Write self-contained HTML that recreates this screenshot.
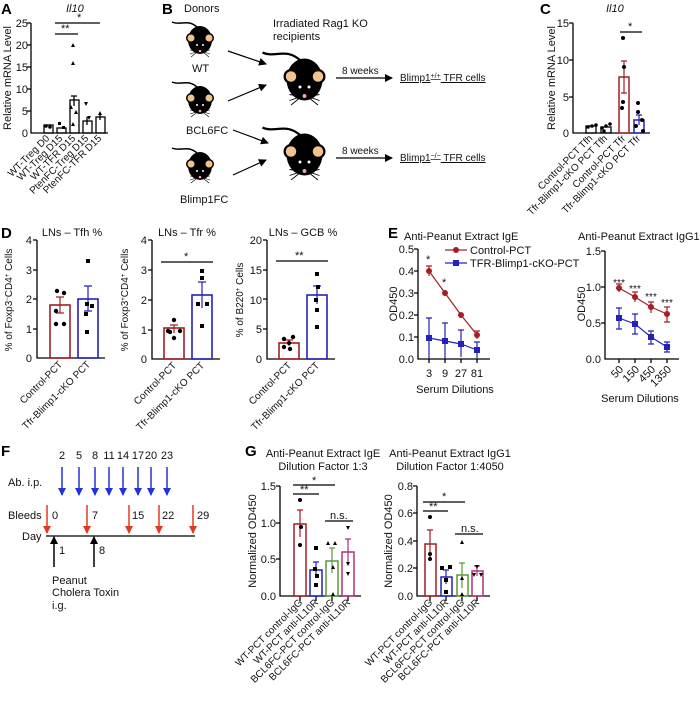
<!DOCTYPE html>
<html><head><meta charset="utf-8"><style>
html,body{margin:0;padding:0;background:#fff;}
svg{display:block;font-family:"Liberation Sans",Arial,sans-serif;}
.t{font-size:11px;fill:#111}
.s{font-size:10px;fill:#111}
.L{font-size:15px;font-weight:bold;fill:#000}
.ax{stroke:#000;stroke-width:1.3;fill:none}
</style></head><body>
<svg width="700" height="722" viewBox="0 0 700 722" xmlns="http://www.w3.org/2000/svg">
<defs>
<marker id="ab" markerUnits="userSpaceOnUse" markerWidth="8" markerHeight="8" refX="7" refY="4" orient="auto"><path d="M0,0 L8,4 L0,8z" fill="#2233dd"/></marker>
<marker id="ar" markerUnits="userSpaceOnUse" markerWidth="8" markerHeight="8" refX="7" refY="4" orient="auto"><path d="M0,0 L8,4 L0,8z" fill="#e03a1e"/></marker>
<marker id="ak" markerUnits="userSpaceOnUse" markerWidth="8" markerHeight="8" refX="7" refY="4" orient="auto"><path d="M0,0 L8,4 L0,8z" fill="#000"/></marker>
<g id="mouse">
<path d="M-2,-12 C-12,-22 -20,-14 -28,-18" stroke="#000" stroke-width="1.5" fill="none"/>
<ellipse cx="0" cy="0" rx="12" ry="14" fill="#000"/>
<circle cx="-9" cy="-2" r="5" fill="#000"/><circle cx="9" cy="-2" r="5" fill="#000"/>
<circle cx="-9" cy="-2" r="3.5" fill="#f3c38e"/><circle cx="9" cy="-2" r="3.5" fill="#f3c38e"/>
<circle cx="-3" cy="5" r="1" fill="#fff"/><circle cx="3" cy="5" r="1" fill="#fff"/>
<circle cx="0" cy="11" r="1.3" fill="#f0a0b0"/>
<path d="M-4,11 l-6,-1 M-4,12 l-6,2 M-4,13 l-5,4 M4,11 l6,-1 M4,12 l6,2 M4,13 l5,4" stroke="#000" stroke-width=".6"/>
</g>
</defs>

<!-- Panel A -->
<text class="L" x="1" y="14">A</text>
<text class="t" x="66" y="12" font-style="italic" font-size="12">Il10</text>
<g class="t" text-anchor="end">
<text x="28" y="27">25</text><text x="28" y="49">20</text><text x="28" y="71">15</text><text x="28" y="93">10</text><text x="28" y="115">5</text><text x="28" y="137">0</text>
</g>
<path class="ax" d="M31,23 V133 H108 M27,23 H31 M27,45 H31 M27,67 H31 M27,89 H31 M27,111 H31"/>
<text class="t" transform="translate(11,78) rotate(-90)" text-anchor="middle">Relative mRNA Level</text>
<g stroke="#000" stroke-width="1.3" fill="none">
<rect x="44" y="125" width="9" height="8"/><rect x="57" y="128" width="9" height="5"/>
<rect x="70" y="100" width="9" height="33"/><rect x="83" y="121" width="9" height="12"/><rect x="96" y="117" width="9" height="16"/>
<path d="M74,96 V106 M71,96 H77 M87,117 V125 M100,114 V120"/>
</g>
<g fill="#000"><circle cx="46" cy="126" r="1.8"/><circle cx="50" cy="127" r="1.8"/><rect x="58" y="122" width="3" height="3"/><rect x="62" y="126" width="3" height="3"/>
<path d="M73,43 l2,4 h-4z M73,61 l2,4 h-4z M71,105 l2,4 h-4z M76,110 l2,4 h-4z M73,122 l2,4 h-4z M86,106 l2,-4 h-4z M89,120 l2,-4 h-4z M100,111 l2,4 h-4z"/></g>
<path d="M55,34 H78 M55,23 H100" stroke="#000" stroke-width="1.3"/>
<text class="t" x="61" y="32">**</text><text class="t" x="77" y="21">*</text>
<g class="s" text-anchor="end">
<text transform="translate(50,139) rotate(-45)">WT-Treg D0</text>
<text transform="translate(63,139) rotate(-45)">WT-Treg D15</text>
<text transform="translate(76,139) rotate(-45)">WT-TFR D15</text>
<text transform="translate(89,139) rotate(-45)">PtenFC-Treg D15</text>
<text transform="translate(102,139) rotate(-45)">PtenFC-TFR D15</text>
</g>

<!-- Panel B -->
<text class="L" x="162" y="14">B</text>
<text class="t" x="184" y="12">Donors</text>
<use href="#mouse" x="200" y="40"/><text class="t" x="192" y="72">WT</text>
<use href="#mouse" x="200" y="100"/><text class="t" x="186" y="134">BCL6FC</text>
<use href="#mouse" x="200" y="166"/><text class="t" x="180" y="203">Blimp1FC</text>
<text class="t" x="273" y="27">Irradiated Rag1 KO</text>
<text class="t" x="273" y="40">recipients</text>
<g transform="scale(1.5)"><use href="#mouse" x="203" y="53"/><use href="#mouse" x="203" y="103"/></g>
<g stroke="#000" stroke-width="1.2" marker-end="url(#ak)">
<path d="M228,51 L266,64"/><path d="M228,101 L266,85"/><path d="M233,130 L268,143"/><path d="M233,175 L266,160"/>
<path d="M336,78 H392"/><path d="M336,158 H392"/>
</g>
<text class="s" x="342" y="74">8 weeks</text><text class="s" x="342" y="154">8 weeks</text>
<text class="s" x="400" y="81" text-decoration="underline">Blimp1<tspan baseline-shift="super" font-size="7">+/+</tspan> TFR cells</text>
<text class="s" x="400" y="161" text-decoration="underline">Blimp1<tspan baseline-shift="super" font-size="7">−/−</tspan> TFR cells</text>

<!-- Panel C -->
<text class="L" x="540" y="14">C</text>
<text class="t" x="606" y="12" font-style="italic" font-size="12">Il10</text>
<g class="t" text-anchor="end"><text x="569" y="27">15</text><text x="569" y="64">10</text><text x="569" y="101">5</text><text x="569" y="137">0</text></g>
<path class="ax" d="M573,23 V133 H650 M569,23 H573 M569,60 H573 M569,97 H573"/>
<text class="t" transform="translate(555,78) rotate(-90)" text-anchor="middle">Relative mRNA Level</text>
<rect x="586" y="126" width="10" height="7" fill="none" stroke="#000" stroke-width="1.3"/>
<rect x="601" y="127" width="10" height="6" fill="none" stroke="#000" stroke-width="1.3"/>
<rect x="619" y="77" width="10" height="56" fill="none" stroke="#a31f24" stroke-width="1.5"/>
<rect x="634" y="120" width="10" height="13" fill="none" stroke="#2222bb" stroke-width="1.5"/>
<path d="M624,61 V93 M621,61 H627 M621,93 H627" stroke="#a31f24" stroke-width="1.2"/>
<path d="M639,115 V125 M636,115 H642" stroke="#2222bb" stroke-width="1.2"/>
<g fill="#000"><circle cx="588" cy="127" r="1.8"/><circle cx="592" cy="126" r="1.8"/><circle cx="596" cy="125" r="1.8"/><circle cx="602" cy="128" r="1.8"/><circle cx="606" cy="126" r="1.8"/><circle cx="610" cy="124" r="1.8"/><circle cx="604" cy="131" r="1.8"/>
<circle cx="623" cy="38" r="2"/><circle cx="624" cy="67" r="2"/><circle cx="623" cy="102" r="2"/><circle cx="622" cy="108" r="2"/>
<circle cx="638" cy="103" r="2"/><circle cx="638" cy="112" r="2"/><circle cx="642" cy="120" r="2"/><circle cx="636" cy="126" r="2"/><circle cx="643" cy="131" r="2"/></g>
<path d="M620,32 H642" stroke="#000" stroke-width="1.3"/><text class="t" x="628" y="30">*</text>
<g class="s" text-anchor="end">
<text transform="translate(593,139) rotate(-45)">Control-PCT Tfh</text>
<text transform="translate(608,139) rotate(-45)">Tfr-Blimp1-cKO PCT Tfh</text>
<text transform="translate(626,139) rotate(-45)">Control-PCT Tfr</text>
<text transform="translate(641,139) rotate(-45)">Tfr-Blimp1-cKO PCT Tfr</text>
</g>

<!-- Panel D -->
<text class="L" x="1" y="238">D</text>
<g class="t" text-anchor="middle"><text x="72" y="236">LNs – Tfh %</text><text x="187" y="236">LNs – Tfr %</text><text x="303" y="236">LNs – GCB %</text></g>
<g class="t" text-anchor="end"><text x="32" y="244">4</text><text x="32" y="274">3</text><text x="32" y="303">2</text><text x="32" y="333">1</text><text x="32" y="362">0</text></g>
<path class="ax" d="M37,240 V358 H105 M33,240 H37 M33,270 H37 M33,299 H37 M33,329 H37"/>
<text class="s" transform="translate(12,300) rotate(-90)" text-anchor="middle">% of Foxp3<tspan baseline-shift="super" font-size="6">−</tspan>CD4<tspan baseline-shift="super" font-size="6">+</tspan> Cells</text>
<rect x="50" y="305" width="20" height="53" fill="none" stroke="#a31f24" stroke-width="1.6"/>
<rect x="78" y="299" width="20" height="59" fill="none" stroke="#2222bb" stroke-width="1.6"/>
<path d="M60,297 V313 M56,297 H64 M56,313 H64" stroke="#a31f24" stroke-width="1.2"/>
<path d="M88,286 V311 M84,286 H92 M84,311 H92" stroke="#2222bb" stroke-width="1.2"/>
<g fill="#000"><circle cx="57" cy="291" r="2.2"/><circle cx="64" cy="293" r="2.2"/><circle cx="56" cy="311" r="2.2"/><circle cx="56" cy="324" r="2.2"/><circle cx="64" cy="324" r="2.2"/>
<rect x="86" y="259" width="4" height="4"/><rect x="85" y="302" width="4" height="4"/><rect x="90" y="304" width="4" height="4"/><rect x="84" y="312" width="4" height="4"/><rect x="85" y="330" width="4" height="4"/></g>
<g class="t" text-anchor="end"><text x="147" y="244">4</text><text x="147" y="274">3</text><text x="147" y="304">2</text><text x="147" y="334">1</text><text x="147" y="363">0</text></g>
<path class="ax" d="M152,240 V359 H220 M148,240 H152 M148,270 H152 M148,300 H152 M148,330 H152"/>
<text class="s" transform="translate(128,300) rotate(-90)" text-anchor="middle">% of Foxp3<tspan baseline-shift="super" font-size="6">+</tspan>CD4<tspan baseline-shift="super" font-size="6">+</tspan> Cells</text>
<rect x="164" y="328" width="20" height="31" fill="none" stroke="#a31f24" stroke-width="1.6"/>
<rect x="192" y="295" width="20" height="64" fill="none" stroke="#2222bb" stroke-width="1.6"/>
<path d="M174,325 V333 M170,325 H178" stroke="#a31f24" stroke-width="1.2"/>
<path d="M202,282 V308 M198,282 H206" stroke="#2222bb" stroke-width="1.2"/>
<g fill="#000"><circle cx="174" cy="320" r="2.2"/><circle cx="168" cy="331" r="2.2"/><circle cx="180" cy="331" r="2.2"/><circle cx="174" cy="338" r="2.2"/><circle cx="170" cy="332" r="2.2"/>
<rect x="200" y="269" width="4" height="4"/><rect x="200" y="276" width="4" height="4"/><rect x="196" y="302" width="4" height="4"/><rect x="205" y="302" width="4" height="4"/><rect x="200" y="324" width="4" height="4"/></g>
<path d="M161,262 H213" stroke="#000" stroke-width="1.3"/><text class="t" x="184" y="260">*</text>
<g class="t" text-anchor="end"><text x="262" y="244">20</text><text x="262" y="274">15</text><text x="262" y="304">10</text><text x="262" y="333">5</text><text x="262" y="363">0</text></g>
<path class="ax" d="M267,240 V359 H335 M263,240 H267 M263,270 H267 M263,299 H267 M263,329 H267"/>
<text class="s" transform="translate(243,300) rotate(-90)" text-anchor="middle">% of B220<tspan baseline-shift="super" font-size="6">+</tspan> Cells</text>
<rect x="279" y="343" width="20" height="16" fill="none" stroke="#a31f24" stroke-width="1.6"/>
<rect x="307" y="295" width="20" height="64" fill="none" stroke="#2222bb" stroke-width="1.6"/>
<path d="M289,340 V346 M285,340 H293" stroke="#a31f24" stroke-width="1.2"/>
<path d="M317,286 V304 M313,286 H321" stroke="#2222bb" stroke-width="1.2"/>
<g fill="#000"><circle cx="284" cy="339" r="2.2"/><circle cx="293" cy="337" r="2.2"/><circle cx="284" cy="347" r="2.2"/><circle cx="290" cy="349" r="2.2"/><circle cx="289" cy="343" r="2.2"/>
<rect x="315" y="272" width="4" height="4"/><rect x="316" y="285" width="4" height="4"/><rect x="314" y="298" width="4" height="4"/><rect x="315" y="308" width="4" height="4"/><rect x="315" y="325" width="4" height="4"/></g>
<path d="M276,261 H328" stroke="#000" stroke-width="1.3"/><text class="t" x="295" y="259">**</text>
<g class="s" text-anchor="end">
<text transform="translate(63,365) rotate(-45)">Control-PCT</text><text transform="translate(91,365) rotate(-45)">Tfr-Blimp1-cKO PCT</text>
<text transform="translate(177,366) rotate(-45)">Control-PCT</text><text transform="translate(205,366) rotate(-45)">Tfr-Blimp1-cKO PCT</text>
<text transform="translate(292,366) rotate(-45)">Control-PCT</text><text transform="translate(320,366) rotate(-45)">Tfr-Blimp1-cKO PCT</text>
</g>

<!-- Panel E -->
<text class="L" x="388" y="238">E</text>
<text class="t" x="404" y="240">Anti-Peanut Extract IgE</text>
<text class="t" x="578" y="240">Anti-Peanut Extract IgG1</text>
<g class="t" text-anchor="end"><text x="414" y="253">0.5</text><text x="414" y="275">0.4</text><text x="414" y="297">0.3</text><text x="414" y="319">0.2</text><text x="414" y="341">0.1</text><text x="414" y="363">0.0</text></g>
<path class="ax" d="M418,249 V359 H490 M414,249 H418 M414,271 H418 M414,293 H418 M414,315 H418 M414,337 H418 M429,359 V363 M445,359 V363 M461,359 V363 M477,359 V363"/>
<text class="t" transform="translate(397,304) rotate(-90)" text-anchor="middle">OD450</text>
<g class="t" text-anchor="middle"><text x="429" y="377">3</text><text x="445" y="377">9</text><text x="461" y="377">27</text><text x="477" y="377">81</text><text x="455" y="393">Serum Dilutions</text></g>
<g stroke="#2222bb" stroke-width="1.2"><path d="M429,338 V359 M429,318 V338 M426,318 H432 M445,341 V359 M445,323 V341 M442,323 H448 M461,344 V357 M461,330 V344 M458,330 H464 M477,350 V359 M474,342 H480 M477,342 V350"/>
<path d="M429,338 L445,341 L461,344 L477,350" fill="none"/></g>
<g fill="#2222bb"><rect x="426" y="335" width="6" height="6"/><rect x="442" y="338" width="6" height="6"/><rect x="458" y="341" width="6" height="6"/><rect x="474" y="347" width="6" height="6"/></g>
<g stroke="#a31f24" stroke-width="1.2" fill="none"><path d="M429,271 L445,293 L461,315 L477,335"/><path d="M429,266 V276 M426,266 H432 M445,290 V296 M461,313 V317 M477,331 V339 M474,331 H480"/></g>
<g fill="#a31f24"><circle cx="429" cy="271" r="3"/><circle cx="445" cy="293" r="3"/><circle cx="461" cy="315" r="3"/><circle cx="477" cy="335" r="3"/></g>
<text class="t" x="426" y="263">*</text><text class="t" x="442" y="286">*</text>
<path d="M445,250 H467" stroke="#a31f24" stroke-width="1.2"/><circle cx="456" cy="250" r="3" fill="#a31f24"/><text class="t" x="470" y="254">Control-PCT</text>
<path d="M445,263 H467" stroke="#2222bb" stroke-width="1.2"/><rect x="453" y="260" width="6" height="6" fill="#2222bb"/><text class="t" x="470" y="267">TFR-Blimp1-cKO-PCT</text>
<g class="t" text-anchor="end"><text x="601" y="255">1.5</text><text x="601" y="291">1.0</text><text x="601" y="327">0.5</text><text x="601" y="363">0.0</text></g>
<path class="ax" d="M605,251 V359 H679 M601,251 H605 M601,287 H605 M601,323 H605 M619,359 V363 M635,359 V363 M651,359 V363 M667,359 V363"/>
<text class="t" transform="translate(585,304) rotate(-90)" text-anchor="middle">OD450</text>
<g class="t" text-anchor="end"><text transform="translate(624,370) rotate(-45)">50</text><text transform="translate(640,370) rotate(-45)">150</text><text transform="translate(656,370) rotate(-45)">450</text><text transform="translate(672,370) rotate(-45)">1350</text></g>
<text class="t" x="640" y="402" text-anchor="middle">Serum Dilutions</text>
<g stroke="#2222bb" stroke-width="1.2" fill="none"><path d="M619,318 L635,324 L651,337 L667,347"/><path d="M619,308 V329 M616,308 H622 M616,329 H622 M635,314 V334 M632,314 H638 M632,334 H638 M651,331 V344 M648,331 H654 M648,344 H654 M667,342 V352 M664,342 H670 M664,352 H670"/></g>
<g fill="#2222bb"><rect x="616" y="315" width="6" height="6"/><rect x="632" y="321" width="6" height="6"/><rect x="648" y="334" width="6" height="6"/><rect x="664" y="344" width="6" height="6"/></g>
<g stroke="#a31f24" stroke-width="1.2" fill="none"><path d="M619,288 L635,297 L651,307 L667,314"/><path d="M619,284 V292 M616,284 H622 M635,292 V302 M632,292 H638 M651,302 V313 M648,302 H654 M667,307 V322 M664,307 H670 M664,322 H670"/></g>
<g fill="#a31f24"><circle cx="619" cy="288" r="3"/><circle cx="635" cy="297" r="3"/><circle cx="651" cy="307" r="3"/><circle cx="667" cy="314" r="3"/></g>
<g class="s" text-anchor="middle"><text x="619" y="286">***</text><text x="635" y="292">***</text><text x="651" y="300">***</text><text x="667" y="306">***</text></g>

<!-- Panel F -->
<text class="L" x="1" y="456">F</text>
<text class="t" x="8" y="486">Ab. i.p.</text>
<g class="t" text-anchor="middle"><text x="62" y="459">2</text><text x="79" y="459">5</text><text x="95" y="459">8</text><text x="109" y="459">11</text><text x="123" y="459">14</text><text x="138" y="459">17</text><text x="151" y="459">20</text><text x="167" y="459">23</text></g>
<g stroke="#2233dd" stroke-width="1.5" marker-end="url(#ab)"><path d="M62,467 V495"/><path d="M79,467 V495"/><path d="M95,467 V495"/><path d="M109,467 V495"/><path d="M123,467 V495"/><path d="M138,467 V495"/><path d="M151,467 V495"/><path d="M167,467 V495"/></g>
<text class="t" x="8" y="519">Bleeds</text><text class="t" x="22" y="540">Day</text>
<g stroke="#e03a1e" stroke-width="1.5" marker-end="url(#ar)"><path d="M47,505 V533"/><path d="M87,505 V533"/><path d="M129,505 V533"/><path d="M159,505 V533"/><path d="M193,505 V533"/></g>
<g class="t"><text x="52" y="519">0</text><text x="92" y="519">7</text><text x="132" y="519">15</text><text x="162" y="519">22</text><text x="197" y="519">29</text><text x="59" y="554">1</text><text x="99" y="554">8</text></g>
<path d="M46,536 H195" stroke="#000" stroke-width="1.3"/>
<g stroke="#000" stroke-width="1.5" marker-end="url(#ak)"><path d="M54,567 V537"/><path d="M94,567 V537"/></g>
<text class="t" x="52" y="584">Peanut</text><text class="t" x="52" y="596">Cholera Toxin</text><text class="t" x="52" y="609">i.g.</text>

<!-- Panel G -->
<text class="L" x="245" y="456">G</text>
<g class="t" text-anchor="middle"><text x="323" y="457">Anti-Peanut Extract IgE</text><text x="323" y="470">Dilution Factor 1:3</text><text x="450" y="457">Anti-Peanut Extract IgG1</text><text x="450" y="470">Dilution Factor 1:4050</text></g>
<g class="t" text-anchor="end"><text x="276" y="490">1.5</text><text x="276" y="527">1.0</text><text x="276" y="563">0.5</text><text x="276" y="600">0.0</text></g>
<path class="ax" d="M280,486 V596 H361 M276,486 H280 M276,523 H280 M276,559 H280 M300,596 V601 M316,596 V601 M332,596 V601 M348,596 V601"/>
<text class="t" transform="translate(256,541) rotate(-90)" text-anchor="middle">Normalized OD450</text>
<rect x="294" y="524" width="12" height="72" fill="none" stroke="#a31f24" stroke-width="1.5"/>
<rect x="310" y="570" width="12" height="26" fill="none" stroke="#2222bb" stroke-width="1.5"/>
<rect x="326" y="561" width="12" height="35" fill="none" stroke="#5a9a3a" stroke-width="1.5"/>
<rect x="342" y="552" width="12" height="44" fill="none" stroke="#b0307a" stroke-width="1.5"/>
<path d="M300,510 V537 M297,510 H303" stroke="#a31f24" stroke-width="1.2"/>
<path d="M316,562 V578 M313,562 H319" stroke="#2222bb" stroke-width="1.2"/>
<path d="M332,548 V573 M329,548 H335" stroke="#5a9a3a" stroke-width="1.2"/>
<path d="M348,539 V565 M345,539 H351" stroke="#b0307a" stroke-width="1.2"/>
<g fill="#000"><circle cx="300" cy="500" r="2"/><circle cx="301" cy="527" r="2"/><circle cx="300" cy="545" r="2"/>
<rect x="314" y="546" width="4" height="4"/><rect x="313" y="567" width="4" height="4"/><rect x="315" y="574" width="4" height="4"/><rect x="314" y="583" width="4" height="4"/>
<path d="M326,545 l2,-4 l2,4z M333,545 l2,-4 l2,4z M331,569 l2,-4 l2,4z M331,596 l2,-4 l2,4z M346,526 l2,4 l2,-4z M346,562 l2,4 l2,-4z M346,572 l2,4 l2,-4z"/></g>
<path d="M293,485 H335 M293,494 H319 M325,521 H353" stroke="#000" stroke-width="1.3"/>
<text class="t" x="312" y="484">*</text><text class="t" x="300" y="493">**</text><text class="t" x="330" y="519">n.s.</text>
<g class="t" text-anchor="end"><text x="413" y="490">0.8</text><text x="413" y="517">0.6</text><text x="413" y="545">0.4</text><text x="413" y="572">0.2</text><text x="413" y="600">0.0</text></g>
<path class="ax" d="M417,486 V596 H490 M413,486 H417 M413,513 H417 M413,541 H417 M413,568 H417 M430,596 V601 M446,596 V601 M462,596 V601 M477,596 V601"/>
<text class="t" transform="translate(392,541) rotate(-90)" text-anchor="middle">Normalized OD450</text>
<rect x="425" y="544" width="11" height="52" fill="none" stroke="#a31f24" stroke-width="1.5"/>
<rect x="441" y="577" width="11" height="19" fill="none" stroke="#2222bb" stroke-width="1.5"/>
<rect x="457" y="575" width="11" height="21" fill="none" stroke="#5a9a3a" stroke-width="1.5"/>
<rect x="472" y="571" width="11" height="25" fill="none" stroke="#b0307a" stroke-width="1.5"/>
<path d="M430,530 V558 M427,530 H433" stroke="#a31f24" stroke-width="1.2"/>
<path d="M446,570 V584 M443,570 H449" stroke="#2222bb" stroke-width="1.2"/>
<path d="M462,563 V588 M459,563 H465" stroke="#5a9a3a" stroke-width="1.2"/>
<path d="M477,566 V576 M474,566 H480" stroke="#b0307a" stroke-width="1.2"/>
<g fill="#000"><circle cx="430" cy="517" r="2"/><circle cx="430" cy="554" r="2"/><circle cx="430" cy="559" r="2"/>
<rect x="440" y="566" width="4" height="4"/><rect x="448" y="565" width="4" height="4"/><rect x="444" y="578" width="4" height="4"/><rect x="444" y="590" width="4" height="4"/>
<path d="M460,544 l2,-4 l2,4z M460,580 l2,-4 l2,4z M460,596 l2,-4 l2,4z M472,573 l2,4 l2,-4z M479,573 l2,4 l2,-4z M475,565 l2,4 l2,-4z"/></g>
<path d="M423,502 H465 M423,511 H448 M455,534 H483" stroke="#000" stroke-width="1.3"/>
<text class="t" x="442" y="500">*</text><text class="t" x="429" y="510">**</text><text class="t" x="461" y="532">n.s.</text>
<g class="s" text-anchor="end">
<text transform="translate(303,603) rotate(-45)">WT-PCT control-IgG</text>
<text transform="translate(319,603) rotate(-45)">WT-PCT anti-IL10R</text>
<text transform="translate(335,603) rotate(-45)">BCL6FC-PCT control-IgG</text>
<text transform="translate(351,603) rotate(-45)">BCL6FC-PCT anti-IL10R</text>
<text transform="translate(433,603) rotate(-45)">WT-PCT control-IgG</text>
<text transform="translate(449,603) rotate(-45)">WT-PCT anti-IL10R</text>
<text transform="translate(465,603) rotate(-45)">BCL6FC-PCT control-IgG</text>
<text transform="translate(480,603) rotate(-45)">BCL6FC-PCT anti-IL10R</text>
</g>
</svg>
</body></html>
